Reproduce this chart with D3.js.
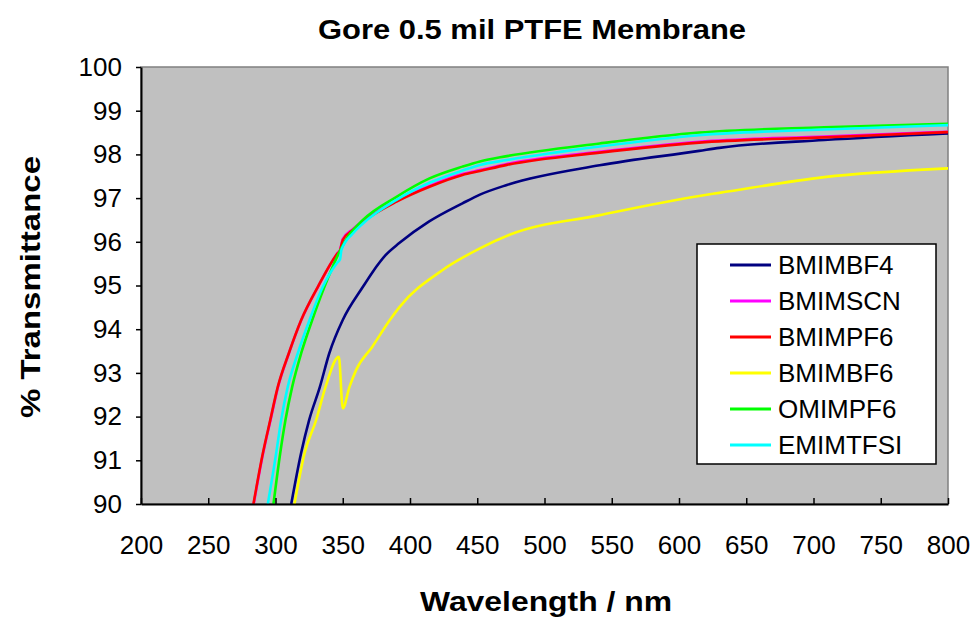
<!DOCTYPE html>
<html>
<head>
<meta charset="utf-8">
<script src="https://cdn.jsdelivr.net/npm/d3@7"></script>
<style>
  body { margin: 0; background: #fff; }
  svg { display: block; font-family: "Liberation Sans", Arial, sans-serif; }
</style>
</head>
<body>
<div id="chart"></div>
<script>
// Chart size and plot area.
const width = 976;
const height = 617;
const marginTop = 67;
const marginRight = 28;
const marginBottom = 113;
const marginLeft = 141;

// Series names and colours (legend order).
const names = ["BMIMBF4", "BMIMSCN", "BMIMPF6", "BMIMBF6", "OMIMPF6", "EMIMTFSI"];
const colours = ["#000080", "#ff00ff", "#ff0000", "#ffff00", "#00ff00", "#00ffff"];

// Wavelength (nm) and % transmittance.
const wlBMIMBF4 = [311.7, 319, 325, 333, 340, 350, 365, 372, 382, 392, 414, 439, 452, 472, 541, 615, 630, 708, 800];
const tBMIMBF4  = [90, 91.16, 91.92, 92.68, 93.45, 94.21, 94.97, 95.3, 95.7, 95.97, 96.46, 96.88, 97.08, 97.3, 97.75, 98.08, 98.15, 98.33, 98.48];

const wlBMIMSCN = [283.8, 290.8, 296.3, 301.9, 310, 319.2, 331.6, 346.3, 348, 350, 357.5, 365, 390, 414.5, 439, 452, 472, 541, 615, 708, 800];
const tBMIMSCN  = [90, 91.16, 91.92, 92.68, 93.45, 94.21, 94.97, 95.75, 95.82, 96.06, 96.29, 96.48, 96.94, 97.28, 97.55, 97.64, 97.78, 98.06, 98.29, 98.41, 98.52];

const wlBMIMPF6 = [283.6, 290.6, 296.1, 301.7, 309.9, 319.1, 331.5, 346.3, 348, 350, 357.5, 365, 390, 414.5, 439, 452, 472, 541, 615, 708, 800];
const tBMIMPF6  = [90, 91.16, 91.92, 92.68, 93.45, 94.21, 94.97, 95.74, 95.8, 96.04, 96.27, 96.46, 96.92, 97.26, 97.53, 97.62, 97.76, 98.04, 98.27, 98.39, 98.51];

const wlBMIMBF6 = [314.1, 321.6, 330.2, 337.2, 347.1, 350, 355, 360, 372, 385, 392, 424, 452, 474, 541, 615, 630, 708, 800];
const tBMIMBF6  = [90, 91.16, 91.92, 92.68, 93.37, 92.19, 92.68, 93.07, 93.6, 94.21, 94.5, 95.35, 95.85, 96.16, 96.61, 97.05, 97.12, 97.48, 97.68];

const wlOMIMPF6 = [298.5, 303.5, 307.4, 312.4, 319.1, 327.3, 336.4, 347.1, 354, 365, 390, 414.5, 439, 452, 472, 541, 615, 708, 800];
const tOMIMPF6  = [90, 91.16, 91.92, 92.68, 93.45, 94.21, 94.97, 95.74, 96.12, 96.5, 97.03, 97.45, 97.72, 97.84, 97.96, 98.25, 98.5, 98.62, 98.7];

const wlEMIMTFSI = [294.3, 300.5, 304.2, 309.1, 316.6, 325.3, 335.2, 345.6, 348, 349, 357.5, 365, 390, 414.5, 439, 452, 472, 541, 615, 708, 800];
const tEMIMTFSI  = [90, 91.16, 91.92, 92.68, 93.45, 94.21, 94.97, 95.51, 95.6, 95.81, 96.19, 96.42, 96.96, 97.35, 97.63, 97.76, 97.87, 98.18, 98.44, 98.57, 98.67];

// Axis ticks.
const xTicks = [200, 250, 300, 350, 400, 450, 500, 550, 600, 650, 700, 750, 800];
const yTicks = [90, 91, 92, 93, 94, 95, 96, 97, 98, 99, 100];

const series = [
  [wlBMIMBF4, tBMIMBF4],
  [wlBMIMSCN, tBMIMSCN],
  [wlBMIMPF6, tBMIMPF6],
  [wlBMIMBF6, tBMIMBF6],
  [wlOMIMPF6, tOMIMPF6],
  [wlEMIMTFSI, tEMIMTFSI]
].map(([wl, t], i) => ({
  name: names[i],
  colour: colours[i],
  values: wl.map((w, j) => ({ w: w, t: t[j] }))
}));

const x = d3.scaleLinear().domain([200, 800]).range([marginLeft, width - marginRight]);
const y = d3.scaleLinear().domain([90, 100]).range([height - marginBottom, marginTop]);

const svg = d3.select("#chart").append("svg")
  .attr("width", width)
  .attr("height", height);

// plot area
svg.append("rect")
  .attr("x", marginLeft)
  .attr("y", marginTop)
  .attr("width", width - marginLeft - marginRight)
  .attr("height", height - marginTop - marginBottom)
  .attr("fill", "#c0c0c0")
  .attr("stroke", "#808080")
  .attr("stroke-width", 1.5);

svg.append("clipPath").attr("id", "clip")
  .append("rect")
  .attr("x", marginLeft)
  .attr("y", marginTop)
  .attr("width", width - marginLeft - marginRight)
  .attr("height", height - marginTop - marginBottom);

const line = d3.line()
  .curve(d3.curveMonotoneX)
  .x(d => x(d.w))
  .y(d => y(d.t));

svg.append("g")
  .attr("clip-path", "url(#clip)")
  .selectAll("path")
  .data(series)
  .join("path")
  .attr("d", d => line(d.values))
  .attr("fill", "none")
  .attr("stroke", d => d.colour)
  .attr("stroke-width", 2.6)
  .attr("stroke-linejoin", "round");

// x axis, ticks pointing into the plot
const xAxis = svg.append("g")
  .attr("transform", `translate(0,${height - marginBottom})`)
  .call(d3.axisBottom(x).tickValues(xTicks).tickSizeInner(-6).tickSizeOuter(0).tickPadding(32));
xAxis.select(".domain").attr("stroke", "#000").attr("stroke-width", 2);
xAxis.selectAll(".tick line").attr("stroke", "#000").attr("stroke-width", 1.5);
xAxis.selectAll(".tick text")
  .attr("font-size", 26)
  .attr("font-family", "Liberation Sans, Arial, sans-serif")
  .attr("fill", "#000")
  .attr("dy", "0.71em");

// y axis, ticks pointing out
const yAxis = svg.append("g")
  .attr("transform", `translate(${marginLeft},0)`)
  .call(d3.axisLeft(y).tickValues(yTicks).tickSizeInner(5).tickSizeOuter(0).tickPadding(14));
yAxis.select(".domain").attr("stroke", "#000").attr("stroke-width", 2);
yAxis.selectAll(".tick line").attr("stroke", "#000").attr("stroke-width", 1.5);
yAxis.selectAll(".tick text")
  .attr("font-size", 26)
  .attr("font-family", "Liberation Sans, Arial, sans-serif")
  .attr("fill", "#000");

// titles
svg.append("text")
  .attr("x", 532)
  .attr("y", 39)
  .attr("text-anchor", "middle")
  .attr("font-size", 28)
  .attr("font-weight", "bold")
  .attr("textLength", 428)
  .attr("lengthAdjust", "spacingAndGlyphs")
  .text("Gore 0.5 mil PTFE Membrane");

svg.append("text")
  .attr("x", 546)
  .attr("y", 611)
  .attr("text-anchor", "middle")
  .attr("font-size", 28)
  .attr("font-weight", "bold")
  .attr("textLength", 252)
  .attr("lengthAdjust", "spacingAndGlyphs")
  .text("Wavelength / nm");

svg.append("text")
  .attr("transform", "translate(40,287) rotate(-90)")
  .attr("text-anchor", "middle")
  .attr("font-size", 28)
  .attr("font-weight", "bold")
  .attr("textLength", 262)
  .attr("lengthAdjust", "spacingAndGlyphs")
  .text("% Transmittance");

// legend
const legend = svg.append("g").attr("transform", "translate(697,244)");
legend.append("rect")
  .attr("width", 239)
  .attr("height", 220)
  .attr("fill", "#fff")
  .attr("stroke", "#000")
  .attr("stroke-width", 1.5);

const item = legend.selectAll(".item")
  .data(series)
  .join("g")
  .attr("class", "item")
  .attr("transform", (d, i) => `translate(0,${21 + i * 36})`);
item.append("line")
  .attr("x1", 33).attr("x2", 74)
  .attr("stroke", d => d.colour)
  .attr("stroke-width", 3);
item.append("text")
  .attr("x", 81)
  .attr("dy", "0.36em")
  .attr("font-size", 26)
  .text(d => d.name);
</script>
</body>
</html>
